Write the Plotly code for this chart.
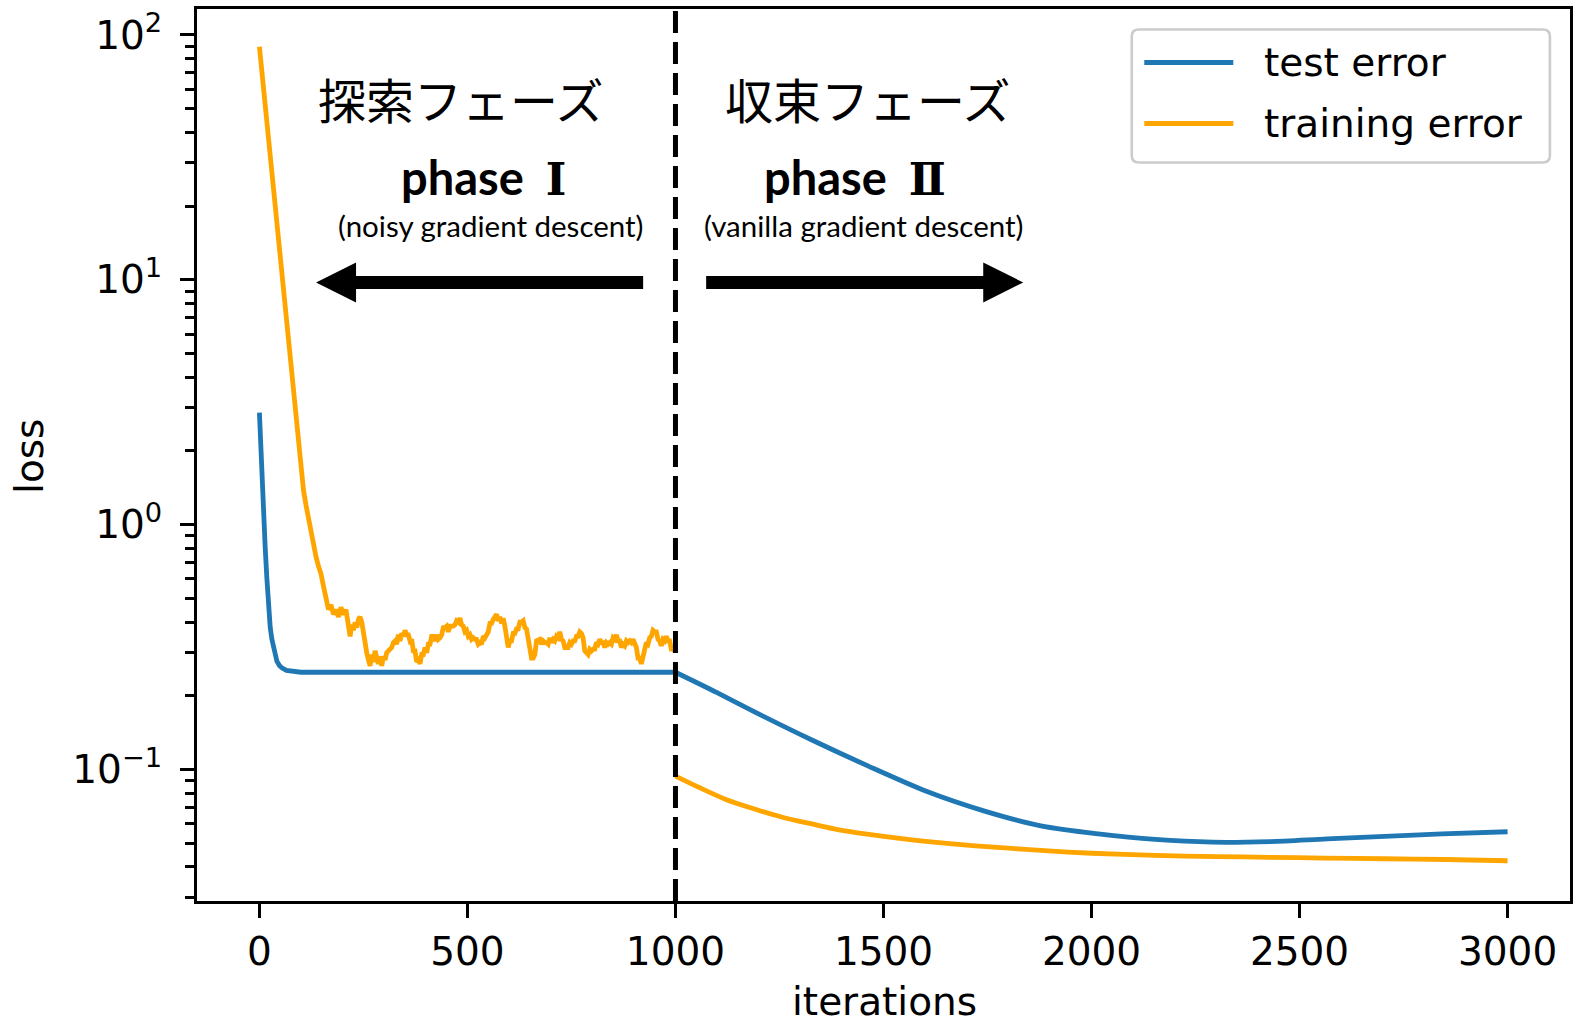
import plotly.graph_objects as go

# ---------------- data ----------------
test_x = [0, 3, 6, 10, 14, 18, 22, 26, 30, 36, 42, 48, 54, 65, 80, 100, 1000,
          1100, 1190, 1328, 1465, 1603, 1741, 1878, 2016, 2153, 2291, 2430,
          2566, 2704, 2842, 3000]
test_y = [2.87, 2.05, 1.53, 1.06, 0.80, 0.60, 0.44, 0.38, 0.34, 0.30, 0.277,
          0.266, 0.26, 0.254, 0.251, 0.2496, 0.2496,
          0.206, 0.172, 0.132, 0.103, 0.0815, 0.0678, 0.0589, 0.0546, 0.0518,
          0.0505, 0.0508, 0.0521, 0.0533, 0.0546, 0.0557]

train1_x = [0, 10, 20, 30, 40, 50, 60, 70, 80, 90, 100, 106, 112, 118, 124,
            130, 136, 142, 148, 154, 160, 166, 172, 178, 184, 190, 196, 202,
            208, 214,
            218, 222, 226, 230, 234, 238, 242, 246, 250, 254,
            258, 262, 266, 270, 274, 278, 282, 286, 290, 294,
            298, 302, 306, 310, 314, 318, 322, 326, 330, 334,
            338, 342, 346, 350, 354, 358, 362, 366, 370, 374,
            378, 382, 386, 390, 394, 398, 402, 406, 410, 414,
            418, 422, 426, 430, 434, 438, 442, 446, 450, 454,
            458, 462, 466, 470, 474, 478, 482, 486, 490, 494,
            498, 502, 506, 510, 514, 518, 522, 526, 530, 534,
            538, 542, 546, 550, 554, 558, 562, 566, 570, 574,
            578, 582, 586, 590, 594, 598, 602, 606, 610, 614,
            618, 622, 626, 630, 634, 638, 642, 646, 650, 654,
            658, 662, 666, 670, 674, 678, 682, 686, 690, 694,
            698, 702, 706, 710, 714, 718, 722, 726, 730, 734,
            738, 742, 746, 750, 754, 758, 762, 766, 770, 774,
            778, 782, 786, 790, 794, 798, 802, 806, 810, 814,
            818, 822, 826, 830, 834, 838, 842, 846, 850, 854,
            858, 862, 866, 870, 874, 878, 882, 886, 890, 894,
            898, 902, 906, 910, 914, 918, 922, 926, 930, 934,
            938, 942, 946, 950, 954, 958, 962, 966, 970, 974,
            978, 982, 986, 990, 994, 998, 1000]
train1_y = [89.5, 60.8, 41.4, 28.1, 19.1, 13.0, 8.83, 5.94, 3.92, 2.58, 1.70,
            1.38, 1.20, 1.05, 0.91, 0.83, 0.74, 0.676, 0.63, 0.56, 0.51, 0.45,
            0.47, 0.43, 0.45, 0.42, 0.46, 0.43, 0.45, 0.37,
            0.35, 0.39, 0.37, 0.40, 0.38, 0.41, 0.42, 0.40, 0.36, 0.32,
            0.30, 0.28, 0.265, 0.295, 0.275, 0.305, 0.285, 0.27, 0.29, 0.265,
            0.29, 0.28, 0.30, 0.305, 0.31, 0.315, 0.33, 0.335, 0.325, 0.355,
            0.335, 0.36, 0.35, 0.37, 0.355, 0.355, 0.335, 0.34, 0.305, 0.305,
            0.275, 0.28, 0.27, 0.295, 0.295, 0.315, 0.30, 0.325, 0.325, 0.35,
            0.35, 0.335, 0.355, 0.34, 0.345, 0.355, 0.38, 0.38, 0.385, 0.365,
            0.385, 0.385, 0.385, 0.39, 0.405, 0.40, 0.415, 0.39, 0.385, 0.365,
            0.37, 0.35, 0.355, 0.34, 0.345, 0.34, 0.34, 0.325, 0.33, 0.325,
            0.35, 0.345, 0.36, 0.365, 0.395, 0.395, 0.41, 0.425, 0.43, 0.405,
            0.42, 0.395, 0.415, 0.385, 0.355, 0.315, 0.335, 0.335, 0.36, 0.36,
            0.375, 0.375, 0.40, 0.40, 0.405, 0.38, 0.375, 0.345, 0.325, 0.285,
            0.285, 0.295, 0.335, 0.34, 0.34, 0.325, 0.335, 0.33, 0.33, 0.325,
            0.345, 0.33, 0.34, 0.335, 0.35, 0.345, 0.365, 0.34, 0.335, 0.315,
            0.315, 0.315, 0.33, 0.325, 0.335, 0.335, 0.35, 0.35, 0.365, 0.36,
            0.345, 0.305, 0.30, 0.295, 0.31, 0.305, 0.31, 0.31, 0.33, 0.325,
            0.34, 0.33, 0.33, 0.315, 0.33, 0.325, 0.33, 0.325, 0.345, 0.34,
            0.355, 0.335, 0.335, 0.315, 0.325, 0.32, 0.335, 0.33, 0.335, 0.33,
            0.34, 0.325, 0.315, 0.285, 0.285, 0.27, 0.295, 0.305, 0.33, 0.325,
            0.345, 0.35, 0.37, 0.365, 0.365, 0.34, 0.335, 0.32, 0.34, 0.335,
            0.35, 0.335, 0.335, 0.31, 0.31, 0.305, 0.32]

train2_x = [1000, 1060, 1121, 1190, 1259, 1330, 1396, 1465, 1534, 1620, 1713,
            1800, 1878, 2000, 2153, 2300, 2429, 2560, 2704, 2850, 3000]
train2_y = [0.094, 0.084, 0.0755, 0.069, 0.0637, 0.0598, 0.0566, 0.0543,
            0.0524, 0.0505, 0.0489, 0.0477, 0.0467, 0.0455, 0.0446, 0.0441,
            0.0438, 0.0435, 0.0432, 0.0429, 0.0424]

phase_split = 1000
x_ticks = [0, 500, 1000, 1500, 2000, 2500, 3000]
y_ticks = [0.1, 1, 10, 100]
y_tick_labels = ["10<sup>\u22121</sup>", "10<sup>0</sup>", "10<sup>1</sup>", "10<sup>2</sup>"]
y_minor = [0.03, 0.04, 0.05, 0.06, 0.07, 0.08, 0.09,
           0.2, 0.3, 0.4, 0.5, 0.6, 0.7, 0.8, 0.9,
           2, 3, 4, 5, 6, 7, 8, 9,
           20, 30, 40, 50, 60, 70, 80, 90]
series_names = ["test error", "training error"]

BLUE = "#1f77b4"
ORANGE = "#ffa500"
LW = 4.8

# ---------------- layout geometry (pixels) ----------------
W, H = 1575, 1023
L, R, T, B = 197, 1569.6, 9, 901


def PX(x):
    return (x - L) / (R - L)


def PY(y):
    return (B - y) / (B - T)


# split test curve: phase I (linear joins) and phase II (smooth)
k = test_x.index(phase_split)

fig = go.Figure()
fig.add_trace(go.Scatter(x=test_x[:k + 1], y=test_y[:k + 1], mode="lines",
                         name=series_names[0], line=dict(color=BLUE, width=LW)))
fig.add_trace(go.Scatter(x=test_x[k:], y=test_y[k:], mode="lines", name=series_names[0],
                         line=dict(color=BLUE, width=LW, shape="spline", smoothing=0.8)))
fig.add_trace(go.Scatter(x=train1_x, y=train1_y, mode="lines", name=series_names[1],
                         line=dict(color=ORANGE, width=LW)))
fig.add_trace(go.Scatter(x=train2_x, y=train2_y, mode="lines", name=series_names[1],
                         line=dict(color=ORANGE, width=LW, shape="spline", smoothing=0.8)))

shapes = []
# dashed phase separator
shapes.append(dict(type="line", xref="x", yref="paper", x0=phase_split, x1=phase_split,
                   y0=0, y1=1, line=dict(color="black", width=5, dash="22px,9px"),
                   layer="above"))


def poly(pts):
    return "M " + " L ".join(f"{PX(x):.5f},{PY(y):.5f}" for x, y in pts) + " Z"


# left arrow
la = [(316, 282.5), (356, 262.5), (356, 276), (643, 276), (643, 289), (356, 289), (356, 302.5)]
shapes.append(dict(type="path", xref="paper", yref="paper", path=poly(la),
                   fillcolor="black", line=dict(width=0)))
# right arrow
ra = [(1023, 282.5), (983, 262.5), (983, 276), (706, 276), (706, 289), (983, 289), (983, 302.5)]
shapes.append(dict(type="path", xref="paper", yref="paper", path=poly(ra),
                   fillcolor="black", line=dict(width=0)))

# legend frame (rounded)
x0, x1, y0, y1, r = 1131.5, 1549.5, 29.5, 162.5, 7


def rr(x0, y0, x1, y1, r):
    p = [f"M {PX(x0 + r):.5f},{PY(y0):.5f}",
         f"L {PX(x1 - r):.5f},{PY(y0):.5f}",
         f"Q {PX(x1):.5f},{PY(y0):.5f} {PX(x1):.5f},{PY(y0 + r):.5f}",
         f"L {PX(x1):.5f},{PY(y1 - r):.5f}",
         f"Q {PX(x1):.5f},{PY(y1):.5f} {PX(x1 - r):.5f},{PY(y1):.5f}",
         f"L {PX(x0 + r):.5f},{PY(y1):.5f}",
         f"Q {PX(x0):.5f},{PY(y1):.5f} {PX(x0):.5f},{PY(y1 - r):.5f}",
         f"L {PX(x0):.5f},{PY(y0 + r):.5f}",
         f"Q {PX(x0):.5f},{PY(y0):.5f} {PX(x0 + r):.5f},{PY(y0):.5f}", "Z"]
    return " ".join(p)


shapes.append(dict(type="path", xref="paper", yref="paper", path=rr(x0, y0, x1, y1, r),
                   fillcolor="rgba(255,255,255,0.8)", line=dict(color="#cccccc", width=2.6),
                   layer="above"))
for yy, col in [(62.5, BLUE), (123.5, ORANGE)]:
    shapes.append(dict(type="line", xref="paper", yref="paper", x0=PX(1144), x1=PX(1233),
                       y0=PY(yy), y1=PY(yy), line=dict(color=col, width=LW), layer="above"))

ann = []


def text(t, x, y, size, family, xanchor="center", color="black", angle=0):
    ann.append(dict(text=t, xref="paper", yref="paper", x=PX(x), y=PY(y),
                    xanchor=xanchor, yanchor="middle", showarrow=False, textangle=angle,
                    font=dict(size=size, family=family, color=color)))


text(series_names[0], 1262, 62, 39, "DejaVu Sans", xanchor="left")
text(series_names[1], 1262, 123, 39, "DejaVu Sans", xanchor="left")

text("探索フェーズ", 461, 98, 48, "Noto Sans CJK JP")
text("収束フェーズ", 868, 98, 48, "Noto Sans CJK JP")
text("<b>phase<span style='font-family:DejaVu Serif;font-size:44px'>\u2002\u2160</span></b>",
     483, 177, 47, "Lato")
text("<b>phase<span style='font-family:DejaVu Serif;font-size:44px'>\u2002\u2161</span></b>",
     855, 177, 47, "Lato")
text("(noisy gradient descent)", 491, 226, 29.5, "Lato")
text("(vanilla gradient descent)", 863, 226, 29.5, "Lato")

text("iterations", 884, 1001, 39, "DejaVu Sans")
text("loss", 29, 456, 39, "DejaVu Sans", angle=-90)

fig.update_layout(
    width=W, height=H,
    margin=dict(l=L, r=W - R, t=T, b=H - B, pad=0),
    paper_bgcolor="white", plot_bgcolor="white",
    showlegend=False,
    shapes=shapes, annotations=ann,
    font=dict(family="DejaVu Sans", size=39, color="black"),
)
fig.update_xaxes(range=[-150, 3150], tickmode="array", tickvals=x_ticks,
                 ticks="outside", ticklen=14, tickwidth=3, tickcolor="black",
                 showline=True, linewidth=3, linecolor="black", mirror=True,
                 showgrid=False, zeroline=False, automargin=False,
                 tickfont=dict(family="DejaVu Sans", size=39, color="black"))
fig.update_yaxes(type="log", range=[-1.537, 2.106], tickmode="array",
                 tickvals=y_ticks, ticktext=y_tick_labels,
                 ticks="outside", ticklen=14, tickwidth=3, tickcolor="black",
                 showline=True, linewidth=3, linecolor="black", mirror=True,
                 showgrid=False, zeroline=False, automargin=False,
                 ticklabelstandoff=10,
                 minor=dict(tickmode="array", tickvals=y_minor, ticks="outside",
                            ticklen=9, tickwidth=2.5, tickcolor="black", showgrid=False),
                 tickfont=dict(family="DejaVu Sans", size=39, color="black"))

fig.write_html("out.html", config={"displayModeBar": False},
               post_script="document.body.style.margin='0';document.body.style.overflow='hidden';")
